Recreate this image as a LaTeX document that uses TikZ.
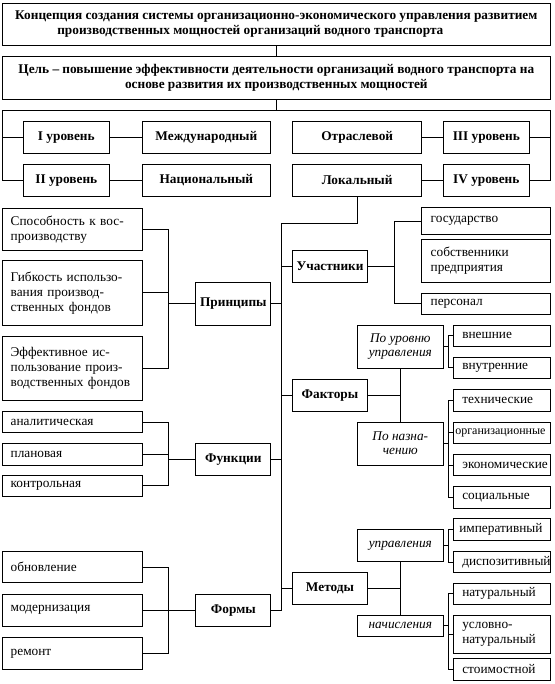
\documentclass[tikz,border=0pt]{standalone}
\usepackage{fontspec}
\setmainfont{Liberation Serif}
\hyphenpenalty=10000

\begin{document}
\begin{tikzpicture}[x=1pt,y=-1pt,line width=0.9pt,
  bx/.style={draw,inner sep=0pt,font=\fontsize{13.3}{15}\selectfont},
  hd/.style={bx,font=\fontsize{13.3}{15.5}\selectfont\bfseries,align=center},
  lv/.style={hd,minimum height=32.3},
  md/.style={hd,minimum width=75},
  it/.style={bx,font=\fontsize{13.3}{14}\selectfont\itshape,align=center,minimum width=86},
  lf/.style={bx,text width=124,inner xsep=8,align=left},
  ul/.style={bx,text width=110.3,inner xsep=9,align=left},
  rt/.style={bx,text width=78.7,inner xsep=9,align=left}]
\useasboundingbox (0,0) rectangle (554,684);
\node[hd,minimum width=547.3,minimum height=42] (title) at (276.35,24) {Концепция создания системы организационно-экономического управления развитием\\производственных мощностей организаций водного транспорта\rule{52pt}{0pt}};
\node[hd,minimum width=547.3,minimum height=42.6] (goal) at (276.35,78) {Цель – повышение эффективности деятельности организаций водного транспорта на\\основе развития их производственных мощностей};
\node[lv,minimum width=86] (lev1) at (66.3,137.2) {I уровень};
\node[lv,minimum width=127.3] (intl) at (206.35,137.2) {Международный};
\node[lv,minimum width=129] (sect) at (357.2,137.2) {Отраслевой};
\node[lv,minimum width=86] (lev3) at (486.3,137.2) {III уровень};
\node[lv,minimum width=86] (lev2) at (66.3,180.2) {II уровень};
\node[lv,minimum width=127.3] (natl) at (206.35,180.2) {Национальный};
\node[lv,minimum width=129] (local) at (357.2,180.2) {Локальный};
\node[lv,minimum width=86] (lev4) at (486.3,180.2) {IV уровень};
\node[lf,minimum height=41.7] (p1) at (72.7,229.2) {Способность к вос-\\производству};
\node[lf,minimum height=64.7] (p2) at (72.7,292.7) {Гибкость использо-\\вания производ-\\ственных фондов};
\node[lf,minimum height=63.3] (p3) at (72.7,368.3) {Эффективное ис-\\пользование произ-\\водственных фондов};
\node[lf,minimum height=21] (f1) at (72.7,422.2) {аналитическая};
\node[lf,minimum height=21.7] (f2) at (72.7,454.2) {плановая};
\node[lf,minimum height=21.7] (f3) at (72.7,485.8) {контрольная};
\node[lf,minimum height=31] (m1) at (72.7,567.2) {обновление};
\node[lf,minimum height=31.7] (m2) at (72.7,610.2) {модернизация};
\node[lf,minimum height=31.6] (m3) at (72.7,653.5) {ремонт};
\node[md,minimum height=42.7] (princ) at (233.35,303.7) {Принципы};
\node[md,minimum height=31.7] (func) at (233.35,459.2) {Функции};
\node[md,minimum height=31.7] (forms) at (233.35,610.2) {Формы};
\node[md,minimum height=32.3] (part) at (330,266.2) {Участники};
\node[md,minimum height=32.4] (fact) at (330,395.5) {Факторы};
\node[md,minimum height=32] (meth) at (330,588.3) {Методы};
\node[ul,minimum height=26.6] (gov) at (485.85,221) {государство};
\node[ul,minimum height=43] (own) at (485.85,260.8) {собственники\\предприятия};
\node[ul,minimum height=21] (staff) at (485.85,303.8) {персонал};
\node[it,minimum height=43.3] (flvl) at (400.3,346.7) {По уровню\\управления};
\node[it,minimum height=42.7] (fpur) at (400.3,443.7) {По назна-\\чению};
\node[it,minimum height=32.4] (mctl) at (400.3,545.5) {управления};
\node[it,minimum height=21.7] (macc) at (400.3,625.8) {начисления};
\node[rt,minimum height=21] (ext) at (501.65,335.5) {внешние};
\node[rt,minimum height=21] (intn) at (501.65,367.8) {внутренние};
\node[rt,minimum height=21.7] (tech) at (501.65,400.2) {технические};
\node[rt,minimum height=21,inner xsep=2,text width=92.7,font=\fontsize{12}{14}\selectfont] (org) at (501.65,432.8) {организационные};
\node[rt,minimum height=21.4] (econ) at (501.65,465) {экономические};
\node[rt,minimum height=22.3] (soc) at (501.65,497.2) {социальные};
\node[rt,minimum height=22.4,inner xsep=6,text width=84.7] (imp) at (501.65,529.5) {императивный};
\node[rt,minimum height=21] (disp) at (501.65,562.2) {диспозитивный};
\node[rt,minimum height=21] (nat) at (501.65,593.8) {натуральный};
\node[rt,minimum height=38.3] (cond) at (501.65,634.2) {условно-\\натуральный};
\node[rt,minimum height=21.7] (cost) at (501.65,669.2) {стоимостной};
\coordinate (fl) at (2.7,110);
\coordinate (fr) at (550,110);
\coordinate (bus) at (281.5,223);
\coordinate (lb) at (168.3,0);
\coordinate (ub) at (394.3,0);
\coordinate (rb) at (448.3,0);
\draw (title) -- (goal);
\draw (goal) -- (goal |- fl);
\draw (lev2) -| (fl) -- (fr) |- (lev4);
\draw (lev1) -- (lev1 -| fl);
\draw (lev3) -- (lev3 -| fr);
\draw (lev1) -- (intl);
\draw (lev2) -- (natl);
\draw (sect) -- (lev3);
\draw (local) -- (lev4);
\draw (local) |- (bus) |- (forms);
\draw (princ) -- (princ -| bus);
\draw (func) -- (func -| bus);
\draw (part) -- (part -| bus);
\draw (fact) -- (fact -| bus);
\draw (meth) -- (meth -| bus);
\draw (p1) -| (lb |- p3) -- (p3);
\draw (p2) -- (p2 -| lb);
\draw (princ) -- (princ -| lb);
\draw (f1) -| (lb |- f3) -- (f3);
\draw (f2) -- (f2 -| lb);
\draw (func) -- (func -| lb);
\draw (m1) -| (lb |- m3) -- (m3);
\draw (m2) -- (m2 -| lb);
\draw (forms) -- (forms -| lb);
\draw (gov) -| (ub |- staff) -- (staff);
\draw (part) -- (part -| ub);
\draw (flvl) -- (fpur);
\draw (fact) -- (fact -| flvl);
\draw (ext) -| (rb |- intn) -- (intn);
\draw (flvl) -- (flvl -| rb);
\draw (tech) -| (rb |- soc) -- (soc);
\draw (org) -- (org -| rb);
\draw (econ) -- (econ -| rb);
\draw (fpur) -- (fpur -| rb);
\draw (mctl) -- (macc);
\draw (meth) -- (meth -| mctl);
\draw (imp) -| (rb |- disp) -- (disp);
\draw (mctl) -- (mctl -| rb);
\draw (nat) -| (rb |- cost) -- (cost);
\draw (cond) -- (cond -| rb);
\draw (macc) -- (macc -| rb);
\end{tikzpicture}
\end{document}
